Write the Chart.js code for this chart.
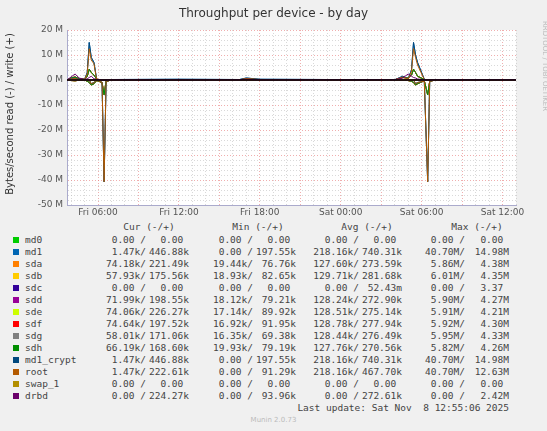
<!DOCTYPE html>
<html><head><meta charset="utf-8">
<script src="https://cdn.jsdelivr.net/npm/chart.js@4"></script>
<style>
body{margin:0;background:#f0f0f0;width:547px;height:431px;overflow:hidden;position:relative;font-family:"DejaVu Sans Mono",monospace;color:#444}
#wrap{position:absolute;left:0;top:0;width:547px;height:220px}
.t{position:absolute;white-space:pre;font-size:9.5px;line-height:12px}
.r{text-align:right}
.sq{position:absolute;width:6px;height:6px}
</style></head><body>
<div id="wrap"><canvas id="c"></canvas></div>
<div class="t" style="left:0;width:547px;top:7px;text-align:center;font-family:'DejaVu Sans',sans-serif;font-size:12px;color:#333">Throughput per device - by day</div>
<div class="t" style="left:-80px;top:108px;width:180px;text-align:center;transform:rotate(-90deg);font-family:'DejaVu Sans',sans-serif;font-size:10px;color:#333">Bytes/second read (-) / write (+)</div>
<div class="t" style="left:480px;top:60px;width:130px;text-align:center;transform:rotate(90deg);font-family:'DejaVu Sans',sans-serif;font-size:7px;color:#bbb">RRDTOOL / TOBI OETIKER</div>
<div id="legend"></div>
<script>
// hours since Fri 00:00
const times = [3.7, 4.0, 4.3, 4.6, 5.0, 5.2, 5.35, 5.5, 5.7, 5.9, 6.3, 6.45, 6.6, 7.0, 12, 16.5, 17, 18, 28, 28.6, 29.0, 29.25, 29.4, 29.55, 29.7, 30.2, 30.45, 30.6, 31, 37];
const names = ['md0','md1','sda','sdb','sdc','sdd','sde','sdf','sdg','sdh','md1_crypt','root','swap_1','drbd'];
const colors = ['#00cc00','#0066b3','#ff8000','#ffcc00','#330099','#990099','#ccff00','#ff0000','#808080','#008f00','#00487d','#b35a00','#b38f00','#6b006b'];
// write (+) in M
const zero = [0,0,0,0,0,0,0,0,0,0,0,0,0,0,0,0,0,0,0,0,0,0,0,0,0,0,0,0,0,0];
const md1W = [0,0.5,0.8,0.3,0.2,3,15,9,7,0.3,0,0,0,0.2,0.3,0.2,0.8,0.3,0.1,1.5,0.5,4,15,10,7,0.3,0,0,0.2,0.2];
const rootW = [0,0.4,0.6,0.2,0.2,2.5,12.5,8,6.5,0.2,0,0,0,0.1,0.2,0.1,0.6,0.2,0.1,1.2,0.4,3.5,12.6,9,6,0.2,0,0,0.1,0.1];
const sdW = [0,0.8,1.2,0.5,0.3,1.5,4.3,3,2,0.3,0,0,0,0.1,0.1,0.1,0.4,0.1,0.1,1,0.8,2,4.3,3,1.5,0.2,0,0,0.1,0.1];
const drbdW = [0,1.2,2.4,0.8,0.2,0.5,1,1.5,0.5,0.2,0,0,0,0.1,0.1,0.1,0.3,0.1,0.1,0.8,2.4,1.5,1,0.8,0.4,0.1,0,0,0.1,0.1];
// read (-) in M
const md1R = [0,0,0,0,0,0,0,-1.5,-1,0,-1,-40.7,-0.5,0,0,0,0,0,0,0,0,0,0,-1.5,-1,-0.5,-40.7,-0.5,0,0];
const sdR = [0,-0.2,-0.3,-0.1,0,-0.5,-1,-2,-1.5,-0.2,-1,-5.9,-0.5,0,0,0,0,0,0,-0.2,-0.2,-0.5,-1,-2,-1.5,-0.3,-5.9,-0.5,0,0];
const writes = [zero,md1W,sdW,sdW,zero,sdW,sdW,sdW,sdW,sdW,md1W,rootW,zero,drbdW];
const reads = [zero,md1R,sdR,sdR,zero,sdR,sdR,sdR,sdR,sdR,md1R,md1R,zero,zero];
const yTicks = [20,10,0,-10,-20,-30,-40,-50];
const xLabels = {6:'Fri 06:00',12:'Fri 12:00',18:'Fri 18:00',24:'Sat 00:00',30:'Sat 06:00',36:'Sat 12:00'};
const stats = [
 ['0.00 /','0.00 ','0.00 /','0.00 ','0.00 /','0.00 ','0.00 /','0.00 '],
 ['1.47k/','446.88k','0.00 /','197.55k','218.16k/','740.31k','40.70M/','14.98M'],
 ['74.18k/','221.49k','19.44k/','76.76k','127.60k/','273.59k','5.86M/','4.38M'],
 ['57.93k/','175.56k','18.93k/','82.65k','129.71k/','281.68k','6.01M/','4.35M'],
 ['0.00 /','0.00 ','0.00 /','0.00 ','0.00 /','52.43m','0.00 /','3.37 '],
 ['71.99k/','198.55k','18.12k/','79.21k','128.24k/','272.90k','5.90M/','4.27M'],
 ['74.06k/','226.27k','17.14k/','89.92k','128.51k/','275.14k','5.91M/','4.21M'],
 ['74.64k/','197.52k','16.92k/','91.95k','128.78k/','277.94k','5.92M/','4.30M'],
 ['58.01k/','171.06k','16.35k/','69.38k','128.44k/','276.49k','5.95M/','4.33M'],
 ['66.19k/','168.60k','19.93k/','79.19k','127.76k/','270.56k','5.82M/','4.26M'],
 ['1.47k/','446.88k','0.00 /','197.55k','218.16k/','740.31k','40.70M/','14.98M'],
 ['1.47k/','222.61k','0.00 /','91.29k','218.16k/','467.70k','40.70M/','12.63M'],
 ['0.00 /','0.00 ','0.00 /','0.00 ','0.00 /','0.00 ','0.00 /','0.00 '],
 ['0.00 /','224.27k','0.00 /','93.96k','0.00 /','272.61k','0.00 /','2.42M']
];

const datasets = [];
names.forEach((n, i) => {
  [writes[i], reads[i]].forEach(vals => {
    datasets.push({
      data: times.map((t, k) => ({x: t, y: vals[k] * 1e6})),
      borderColor: colors[i], borderWidth: 1, pointRadius: 0, order: 100 - i
    });
  });
});
datasets.push({data: [{x: times[0], y: 0}, {x: times[times.length-1], y: 0}], borderColor: '#000', borderWidth: 1.5, pointRadius: 0, order: -1});

const gridRed = 'rgba(230,120,120,0.6)', gridGray = 'rgba(180,180,180,0.5)';
const bg = {id: 'bg', beforeDraw(ch) {
  const a = ch.chartArea, c = ch.ctx;
  c.save(); c.fillStyle = '#fff'; c.fillRect(a.left, a.top, a.right - a.left, a.bottom - a.top); c.restore();
}};
new Chart(document.getElementById('c'), {
  type: 'line',
  data: {datasets},
  plugins: [bg],
  options: {
    responsive: true, maintainAspectRatio: false, animation: false,
    layout: {padding: {top: 30, right: 31, left: 0, bottom: 0}},
    plugins: {legend: {display: false}, tooltip: {enabled: false}},
    scales: {
      x: {type: 'linear', min: 3.7, max: 37, afterFit: s => { s.height = 15; },
        afterBuildTicks: s => { const t = []; for (let h = 4; h <= 37; h++) t.push({value: h}); s.ticks = t; },
        ticks: {autoSkip: false, maxRotation: 0, color: '#555', font: {family: 'DejaVu Sans', size: 9}, padding: 2,
          callback: v => xLabels[v] || ''},
        grid: {color: c => c.tick && c.tick.value % 3 === 0 ? gridRed : gridGray, drawTicks: false},
        border: {dash: [1, 2], color: '#aac'}},
      y: {min: -50e6, max: 20e6, afterFit: s => { s.width = 67; },
        afterBuildTicks: s => { const t = []; for (let v = 20; v >= -50; v -= 2) t.push({value: v * 1e6}); s.ticks = t; },
        ticks: {autoSkip: false, color: '#555', font: {family: 'DejaVu Sans', size: 9}, padding: 4,
          callback: v => { const m = Math.round(v / 1e6); return yTicks.includes(m) ? m + ' M' : ''; }},
        grid: {color: c => c.tick && Math.round(c.tick.value / 1e6) % 10 === 0 ? gridRed : gridGray, drawTicks: false},
        border: {dash: [1, 2], color: '#aac'}}
    }
  }
});

// legend
const L = document.getElementById('legend');
const hdr = [['Cur (-/+)', 149], ['Min (-/+)', 258], ['Avg (-/+)', 367], ['Max (-/+)', 477]];
let html = '';
hdr.forEach(([s, x]) => { html += `<div class="t" style="left:${x-60}px;width:120px;text-align:center;top:221px">${s}</div>`; });
const rEdge = [146, 253, 359, 465], wEdge = [189, 296, 402, 509];
names.forEach((n, i) => {
  const y = 234 + i * 12;
  html += `<div class="sq" style="left:13px;top:${y+3}px;background:${colors[i]}"></div>`;
  html += `<div class="t" style="left:25px;top:${y}px">${n}</div>`;
  for (let c = 0; c < 4; c++) {
    html += `<div class="t r" style="left:${rEdge[c]-80}px;width:80px;top:${y}px">${stats[i][c*2]}</div>`;
    html += `<div class="t r" style="left:${wEdge[c]-80}px;width:80px;top:${y}px">${stats[i][c*2+1]}</div>`;
  }
});
html += `<div class="t r" style="left:200px;width:309px;top:402px">Last update: Sat Nov  8 12:55:06 2025</div>`;
html += `<div class="t" style="left:0;width:547px;text-align:center;top:414px;font-family:'DejaVu Sans',sans-serif;font-size:7px;color:#bbb">Munin 2.0.73</div>`;
L.innerHTML = html;
</script>
</body></html>
